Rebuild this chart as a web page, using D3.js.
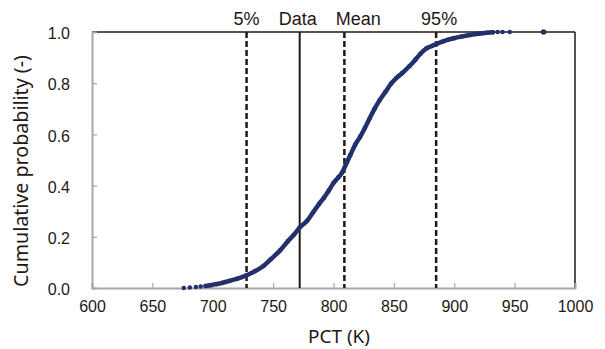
<!DOCTYPE html>
<html><head><meta charset="utf-8">
<script src="https://cdn.jsdelivr.net/npm/d3@7"></script>
<style>body{margin:0;background:#fff}svg{display:block}</style>
</head><body>
<script>
// ---- data ----
const cdfK = [676,681,686,690,694,698,703,708,714,720,728,735,742,748,756,762,767,772,778,783,788,792,796,800,804,807,811,814,818,822,826,830,834,838,843,848,852,857,863,868,872,877,882,886,890,895,900,906,913,920,927,932];
const cdfP = [0.000,0.002,0.004,0.006,0.008,0.011,0.015,0.020,0.028,0.036,0.050,0.066,0.086,0.112,0.148,0.182,0.207,0.236,0.262,0.295,0.328,0.352,0.380,0.410,0.432,0.450,0.490,0.520,0.560,0.590,0.625,0.663,0.700,0.732,0.766,0.800,0.820,0.840,0.867,0.893,0.915,0.936,0.946,0.955,0.962,0.970,0.976,0.982,0.988,0.993,0.997,0.999];
const tailK = [936, 940, 946, 974];
const tailP = [1.0, 1.0, 1.0, 1.0];
const refNames = ["5%", "Data", "Mean", "95%"];
const refK = [728, 772, 809, 885];
const xTicks = [600,650,700,750,800,850,900,950,1000];
const yTicks = [0.0,0.2,0.4,0.6,0.8,1.0];

const W = 605, H = 349;
const m = {l:92, r:30, t:32, b:61};
const svg = d3.select("body").append("svg").attr("width",W).attr("height",H);
const x = d3.scaleLinear().domain([600,1000]).range([m.l, W-m.r]);
const y = d3.scaleLinear().domain([0,1]).range([H-m.b, m.t]);
const ink = "#231815", gray = "#a8a8a8", navy = "#24306b";
const tickFont = "'Liberation Sans', Arial, sans-serif";
const titleFont = "'Noto Sans', 'Open Sans', sans-serif";

// frame: top and right black
svg.append("line").attr("x1",x(600)).attr("x2",x(1000)).attr("y1",y(1)).attr("y2",y(1)).attr("stroke",ink).attr("stroke-width",1.5);
svg.append("line").attr("x1",x(1000)).attr("x2",x(1000)).attr("y1",y(1)).attr("y2",y(0)).attr("stroke",ink).attr("stroke-width",1.5);

// axes
const xAxis = svg.append("g").attr("transform",`translate(0,${y(0)})`)
  .call(d3.axisBottom(x).tickValues(xTicks).tickSize(-5).tickPadding(13).tickFormat(d3.format("d")));
const yAxis = svg.append("g").attr("transform",`translate(${x(600)},0)`)
  .call(d3.axisLeft(y).tickValues(yTicks).tickSize(-5).tickPadding(22).tickFormat(d3.format(".1f")));
[xAxis,yAxis].forEach(g=>{
  g.select(".domain").attr("stroke",gray).attr("stroke-width",2);
  g.selectAll(".tick line").attr("stroke",gray).attr("stroke-width",1.2);
  g.selectAll(".tick text").attr("fill",ink).style("font-family",tickFont).style("font-size","16px");
});
xAxis.selectAll(".tick").filter(d=>d===600||d===1000).select("line").remove();
yAxis.selectAll(".tick").filter(d=>d===0||d===1).select("line").remove();
xAxis.selectAll(".tick text").attr("dy","0.71em");
yAxis.selectAll(".tick text").attr("dy","0.42em");

// reference lines
refK.forEach((k,i)=>{
  svg.append("line").attr("x1",x(k)).attr("x2",x(k)).attr("y1",y(1)).attr("y2",y(0))
    .attr("stroke",ink).attr("stroke-width", refNames[i]==="Data"?2:2.5)
    .attr("stroke-dasharray", refNames[i]==="Data"?null:"6,3");
});
const labelDx = [0,-2,14,3];
refK.forEach((k,i)=>{
  svg.append("text").attr("x",x(k)+labelDx[i]).attr("y",25).attr("text-anchor","middle")
    .attr("fill",ink).style("font-family",tickFont).style("font-size","18px").text(refNames[i]);
});

// CDF curve
const pts = cdfK.map((k,i)=>[k,cdfP[i]]);
const line = d3.line().x(d=>x(d[0])).y(d=>y(d[1])).curve(d3.curveMonotoneX);
svg.append("path").datum(pts.filter(d=>d[0]>=692)).attr("d",line).attr("fill","none")
  .attr("stroke",navy).attr("stroke-width",4.5).attr("stroke-linecap","round");
svg.append("g").selectAll("circle").data(pts).join("circle")
  .attr("cx",d=>x(d[0])).attr("cy",d=>y(d[1])).attr("r",2.3).attr("fill",navy);
svg.append("g").selectAll("circle").data(tailK.map((k,i)=>[k,tailP[i]])).join("circle")
  .attr("cx",d=>x(d[0])).attr("cy",d=>y(d[1])).attr("r",(d,i)=>i===tailK.length-1?2.8:2.2).attr("fill",navy);

// titles, sized to match the reference extents
function fit(t, target){
  const base = 18;
  const len = t.node().getComputedTextLength();
  if (len > 0) t.style("font-size", (base*target/len).toFixed(2)+"px");
}
const xt = svg.append("text").attr("x",339).attr("y",343).attr("text-anchor","middle")
  .attr("fill",ink).style("font-family",titleFont).style("font-size","18px").text("PCT (K)");
fit(xt, 62);
const yt = svg.append("text").attr("transform","translate(28,171) rotate(-90)").attr("text-anchor","middle")
  .attr("fill",ink).style("font-family",titleFont).style("font-size","18px").text("Cumulative probability (-)");
fit(yt, 232);
</script>
</body></html>
